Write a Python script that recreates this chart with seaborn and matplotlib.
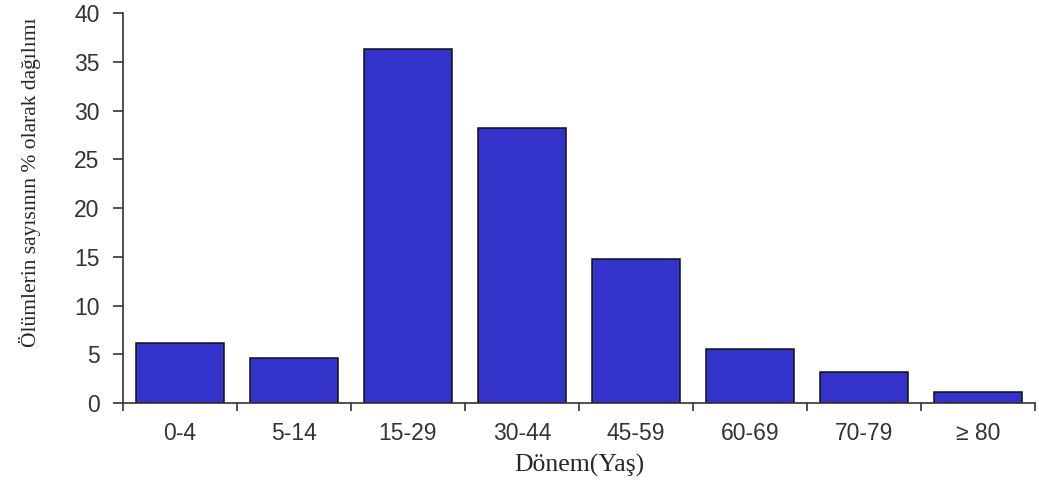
import matplotlib
matplotlib.use("Agg")
import matplotlib.pyplot as plt
import seaborn as sns
import pandas as pd
import numpy as np

# age groups and share of deaths (%)
age_groups = ['0-4', '5-14', '15-29', '30-44', '45-59', '60-69', '70-79', '≥ 80']
death_share = [6.2, 4.6, 36.3, 28.2, 14.8, 5.5, 3.2, 1.1]
y_ticks = [0, 5, 10, 15, 20, 25, 30, 35, 40]

df = pd.DataFrame({'age': age_groups, 'share': death_share})

sns.set_style('ticks')
plt.rcParams['font.family'] = ['Liberation Sans', 'DejaVu Sans']

fig = plt.figure(figsize=(10.39, 4.87), dpi=100)
ax = fig.add_axes([0.1184, 0.1725, 0.8776, 0.8005])

sns.barplot(data=df, x='age', y='share', color='#3333cc', saturation=1,
            edgecolor='#111111', linewidth=1.1, width=0.77, ax=ax)

ax.set_xlim(-0.5, len(age_groups) - 0.5)
ax.set_ylim(0, 40)
ax.set_yticks(y_ticks)
ax.set_yticklabels([str(t) for t in y_ticks])

# labels at bar centres, tick marks between categories
ax.tick_params(axis='x', which='major', length=0, pad=14, labelsize=16.5, labelcolor='#333333')
ax.set_xticks(np.arange(-0.5, len(age_groups)), minor=True)
ax.tick_params(axis='x', which='minor', length=6, width=1.2, color='#333333', direction='out')
ax.tick_params(axis='y', length=7, width=1.2, pad=10, labelsize=16.5, labelcolor='#333333',
               color='#333333')

sns.despine(ax=ax)
for s in ['left', 'bottom']:
    ax.spines[s].set_color('#333333')
    ax.spines[s].set_linewidth(1.2)

ax.set_xlabel('Dönem(Yaş)', fontsize=18.5, family=['Liberation Serif', 'DejaVu Serif'])
ax.set_ylabel('Ölümlerin sayısının % olarak dağılımı', fontsize=15.5,
              family=['Liberation Serif', 'DejaVu Serif'])
ax.xaxis.set_label_coords(0.5, -0.13)
ax.yaxis.set_label_coords(-0.09, 0.565)

fig.savefig('out.png', dpi=100)
